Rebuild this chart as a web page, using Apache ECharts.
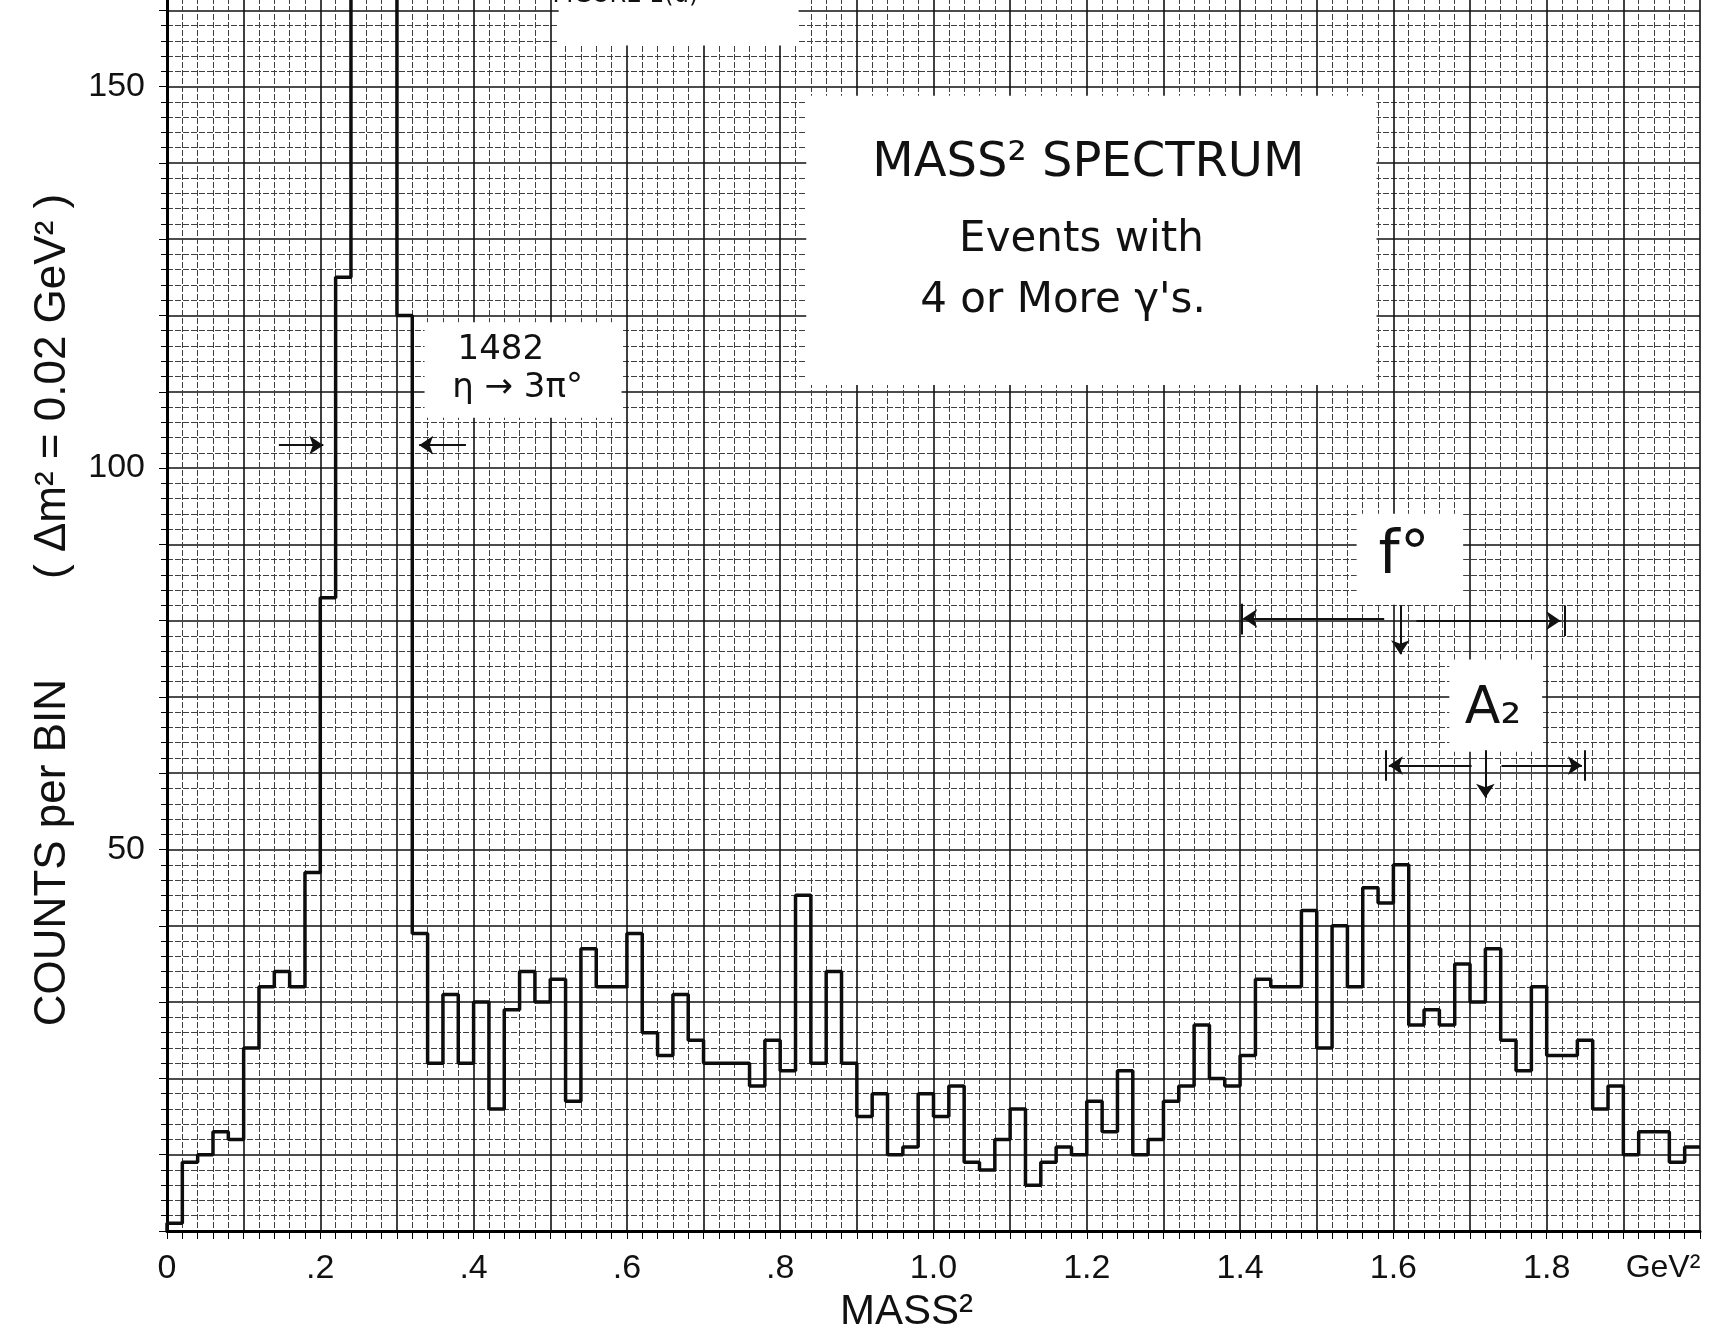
<!DOCTYPE html>
<html><head><meta charset="utf-8">
<script src="https://cdn.jsdelivr.net/npm/echarts@6/dist/echarts.min.js"></script>
<style>
html,body{margin:0;padding:0;background:#fff;overflow:hidden;width:1715px;height:1338px;position:relative}
#c{position:absolute;left:0;top:-66px;width:1715px;height:1404px}
</style>
</head><body><div id="c"></div>
<script>
// ---- data ----
const BIN_WIDTH = 0.02; // GeV^2
const counts = [
  1, 9, 10, 13, 12, 24, 32, 34, 32, 47,
  83, 125, 310, 540, 304, 120, 39, 22, 31, 22,
  30, 16, 29, 34, 30, 33, 17, 37, 32, 32,
  39, 26, 23, 31, 25, 22, 22, 22, 19, 25,
  21, 44, 22, 34, 22, 15, 18, 10, 11, 18,
  15, 19, 9, 8, 12, 16, 6, 9, 11, 10,
  17, 13, 21, 10, 12, 17, 19, 27, 20, 19,
  23, 33, 32, 32, 42, 24, 40, 32, 45, 43,
  48, 27, 29, 27, 35, 30, 37, 25, 21, 32,
  23, 23, 25, 16, 19, 10, 13, 13, 9, 11
];
const xTickValues = [0, 0.2, 0.4, 0.6, 0.8, 1.0, 1.2, 1.4, 1.6, 1.8, 2.0];
const xTickLabels = ['0', '.2', '.4', '.6', '.8', '1.0', '1.2', '1.4', '1.6', '1.8', 'GeV²'];
const yTickValues = [50, 100, 150];
const yTickLabels = ['50', '100', '150'];
const xAxisTitle = 'MASS²';
const yAxisTitleMain = 'COUNTS per BIN';
const yAxisTitleNote = '( Δm² = 0.02 GeV² )';

// annotations (data coordinates)
const whiteBoxes = [
  [0.511, 155.4, 0.824, 170],
  [0.834, 110.9, 1.578, 148.8],
  [0.336, 106.6, 0.593, 119.1],
  [1.552, 82.1, 1.691, 94.0],
  [1.673, 62.8, 1.794, 74.9]
];
const annotationTexts = [
  {text: 'FIGURE 1(d)', x: 0.598, y: 161.9, size: 24, align: 'center'},
  {text: 'MASS² SPECTRUM', x: 1.202, y: 139.9, size: 48, align: 'center'},
  {text: 'Events with', x: 1.193, y: 129.9, size: 42, align: 'center'},
  {text: "4 or More γ's.", x: 1.169, y: 121.9, size: 42, align: 'center'},
  {text: '1482', x: 0.379, y: 115.5, size: 34, align: 'left'},
  {text: 'η → 3π°', x: 0.372, y: 110.5, size: 34, align: 'left'},
  {text: 'f°', x: 1.614, y: 88.3, size: 60, align: 'center'},
  {text: 'A₂', x: 1.730, y: 68.3, size: 52, align: 'center'}
];
const arrowSegs = [
  {from: [0.146, 103], to: [0.204, 103], head: true},
  {from: [0.390, 103], to: [0.329, 103], head: true},
  {from: [1.588, 80.3], to: [1.404, 80.3], head: true},
  {from: [1.630, 80.0], to: [1.818, 80.0], head: true},
  {from: [1.609, 82.0], to: [1.609, 75.6], head: true},
  {from: [1.402, 78.2], to: [1.402, 82.2], head: false},
  {from: [1.824, 78.0], to: [1.824, 82.0], head: false},
  {from: [1.702, 61.0], to: [1.594, 61.0], head: true},
  {from: [1.741, 61.0], to: [1.846, 61.0], head: true},
  {from: [1.720, 63.0], to: [1.720, 56.8], head: true},
  {from: [1.590, 59.0], to: [1.590, 63.0], head: false},
  {from: [1.850, 59.0], to: [1.850, 63.0], head: false}
];

// ---- build ----
const histData = [[0, 0]];
counts.forEach((c, i) => histData.push([i * BIN_WIDTH, c]));
histData.push([counts.length * BIN_WIDTH, counts[counts.length - 1]]);

const LBL = 'Liberation Sans';
const TXT = 'DejaVu Sans';
const majorLine = {color: '#111', width: 1.6};
const minorLine = {color: '#404040', width: 1, type: [6, 2]};

const chart = echarts.init(document.getElementById('c'), null, {renderer: 'canvas'});
chart.setOption({
  backgroundColor: '#fff',
  animation: false,
  grid: {left: 167, right: 15, top: 0, bottom: 107},
  xAxis: {
    type: 'value', min: 0, max: 2, interval: 0.1,
    axisLine: {show: true, onZero: false, lineStyle: {color: '#000', width: 3}},
    axisTick: {show: true, length: 8, lineStyle: {color: '#000', width: 1}},
    minorTick: {show: true, splitNumber: 5, length: 8, lineStyle: {color: '#000', width: 1}},
    splitLine: {show: true, lineStyle: majorLine},
    minorSplitLine: {show: true, lineStyle: minorLine},
    axisLabel: {
      margin: 21, fontSize: 34, color: '#111', fontFamily: LBL,
      showMinLabel: true, showMaxLabel: true, hideOverlap: false,
      formatter: v => {
        const i = xTickValues.findIndex(t => Math.abs(t - v) < 1e-6);
        if (i < 0) return '';
        return i === xTickLabels.length - 1 ? '{g|' + xTickLabels[i] + '}' : xTickLabels[i];
      },
      rich: {g: {fontSize: 32, fontFamily: LBL, color: '#111', padding: [0, 74, 0, 0]}}
    },
    name: xAxisTitle, nameLocation: 'middle', nameGap: 60,
    nameTextStyle: {fontSize: 42, fontFamily: LBL, color: '#111', padding: [0, 54, 0, 0]}
  },
  yAxis: {
    type: 'value', min: 0, max: 170, interval: 10,
    axisLine: {show: true, lineStyle: {color: '#000', width: 3}},
    axisTick: {show: true, length: 8, lineStyle: {color: '#000', width: 1}},
    minorTick: {show: true, splitNumber: 5, length: 6, lineStyle: {color: '#000', width: 1}},
    splitLine: {show: true, lineStyle: majorLine},
    minorSplitLine: {show: true, lineStyle: minorLine},
    axisLabel: {
      margin: 22, fontSize: 34, color: '#111', fontFamily: LBL,
      showMinLabel: true, showMaxLabel: true,
      formatter: v => {
        const i = yTickValues.findIndex(t => Math.abs(t - v) < 1e-6);
        return i < 0 ? '' : yTickLabels[i];
      }
    },
    name: '{a|' + yAxisTitleMain + '}{p|' + yAxisTitleNote + '}',
    nameLocation: 'middle', nameRotate: 90, nameGap: 92,
    nameTextStyle: {
      fontSize: 44, fontFamily: LBL, color: '#111', padding: [0, 55, 0, 0],
      rich: {
        a: {fontSize: 44, fontFamily: LBL, color: '#111'},
        p: {fontSize: 44, fontFamily: LBL, color: '#111', padding: [0, 0, 0, 100]}
      }
    }
  },
  series: [{
    type: 'line', data: histData, step: 'end', clip: true,
    symbol: 'none', showSymbol: false, z: 5,
    lineStyle: {color: '#0d0d0d', width: 3.5},
    markArea: {
      silent: true, label: {show: false},
      itemStyle: {color: '#fff', opacity: 1, borderWidth: 0},
      data: whiteBoxes.map(b => [{coord: [b[0], b[1]]}, {coord: [b[2], b[3]]}])
    },
    markLine: {
      silent: true, animation: false, symbolSize: 14,
      label: {show: false},
      lineStyle: {color: '#111', width: 2, type: 'solid'},
      emphasis: {disabled: true},
      data: arrowSegs.map(s => [
        {coord: s.from, symbol: 'none'},
        {coord: s.to, symbol: s.head ? 'arrow' : 'none'}
      ])
    }
  }]
});

const gfx = annotationTexts.map(a => {
  const p = chart.convertToPixel({gridIndex: 0}, [a.x, a.y]);
  return {
    type: 'text', x: p[0], y: p[1], z: 100,
    style: {text: a.text, fontSize: a.size, fontFamily: TXT, fill: '#111',
            align: a.align, verticalAlign: 'middle'}
  };
});
chart.setOption({graphic: gfx});
</script>
</body></html>
